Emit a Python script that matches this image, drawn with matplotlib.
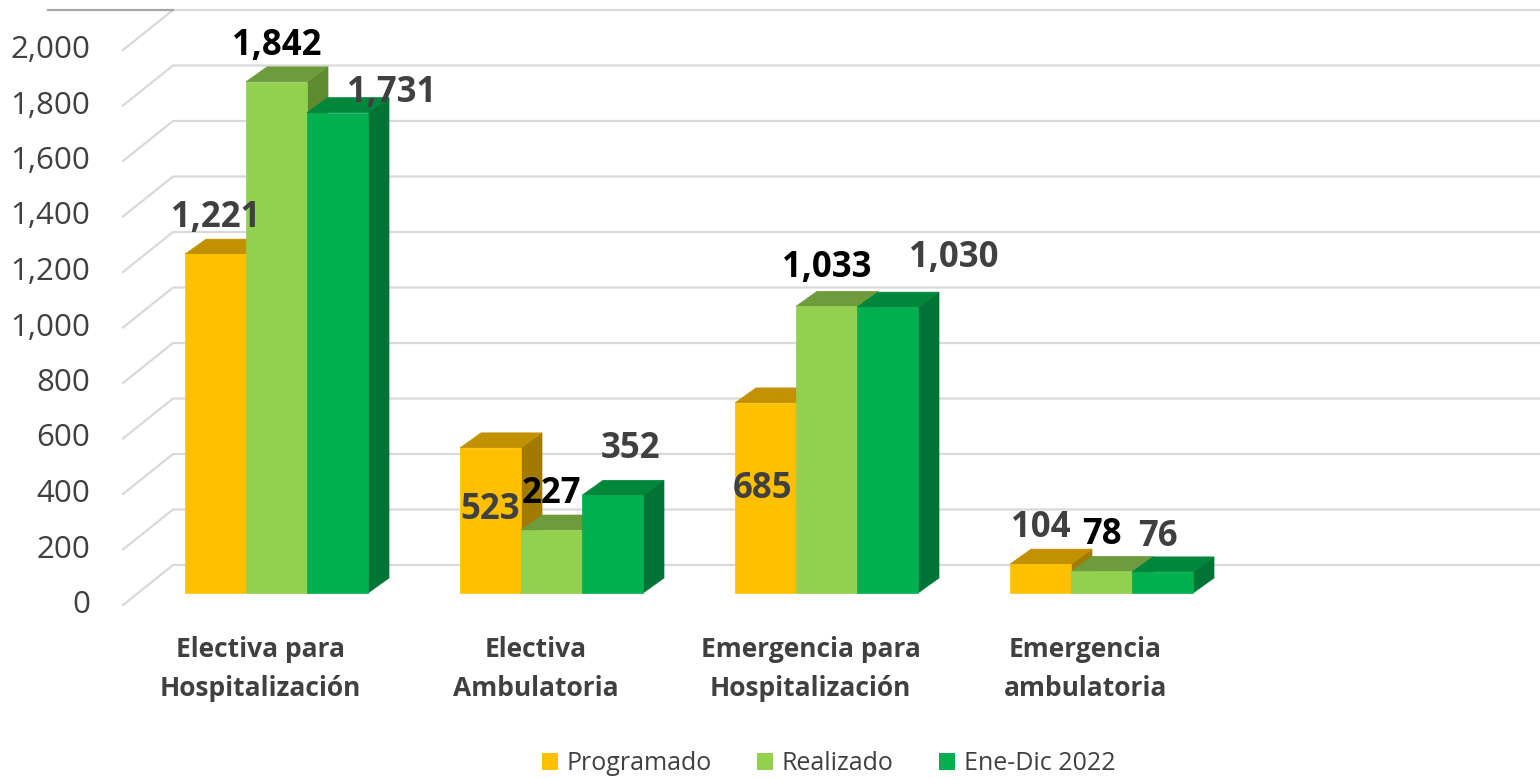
import matplotlib.pyplot as plt
from matplotlib.patches import Polygon, Patch

# data
categorias = ["Electiva para\nHospitalización", "Electiva\nAmbulatoria",
              "Emergencia para\nHospitalización", "Emergencia\nambulatoria"]
series = ["Programado", "Realizado", "Ene-Dic 2022"]
programado = [1221, 523, 685, 104]
realizado = [1842, 227, 1033, 78]
ene_dic_2022 = [1731, 352, 1030, 76]
ticks = [0, 200, 400, 600, 800, 1000, 1200, 1400, 1600, 1800, 2000]

valores = [programado, realizado, ene_dic_2022]

# colours: front, top, side
colores = [("#FFC000", "#C29100", "#A37A00"),
           ("#92D050", "#6E9C3C", "#5E8A30"),
           ("#00B050", "#00873C", "#007434")]
color_etiqueta = ["#404040", "#000000", "#404040"]
# manual nudges of the data labels (pixels), like in the original
nudge = {(0, 2): (54, 20), (1, 0): (0, -62), (1, 2): (18, 46),
         (2, 0): (-3, -86), (2, 1): (0, 38), (2, 2): (66, 49),
         (3, 2): (-5, 35)}

W, H = 1540, 779
fig = plt.figure(figsize=(W / 100, H / 100), dpi=100)
ax = fig.add_axes([0, 0, 1, 1])
ax.axis("off")

# scale: 1 category = 275 px, 1 value unit = 0.2775 px
SX, SY = 275.0, 0.2775
X0, Y0 = 276.5, 593.0  # pixel position of first category center / value 0
ax.set_xlim(-X0 / SX, (W - X0) / SX)
ax.set_ylim(-(H - Y0) / SY, Y0 / SY)


def dx(p):
    return p / SX


def dy(p):
    return p / SY


# back wall gridlines
x_front = dx(123 - X0)
x_back = dx(173 - X0)
for t in ticks:
    yf = t - dy(12)
    yb = t + dy(28)
    ax.plot([x_front, x_back, dx(W - X0)], [yf, yb, yb], color="#d9d9d9", lw=1.6, zorder=1)
    ax.text(dx(90 - X0), yf, f"{t:,}", ha="right", va="center", fontsize=22.5,
            color="#404040", family="Open Sans")
ax.plot([dx(48 - X0), x_back], [2000 + dy(28)] * 2, color="#a6a6a6", lw=1.6, zorder=1)

# 3d-looking bars
bw = dx(61)
ddx, ddy = dx(21), dy(15)
for i in range(len(categorias)):
    for j, vals in enumerate(valores):
        v = vals[i]
        left = i - 1.5 * bw + j * bw
        front, top, side = colores[j]
        ax.add_patch(Polygon([(left + bw, 0), (left + bw + ddx, ddy), (left + bw + ddx, v + ddy),
                              (left + bw, v)], closed=True, fc=side, ec=side, lw=0.5, zorder=3))
        ax.add_patch(Polygon([(left, v), (left + bw, v), (left + bw + ddx, v + ddy),
                              (left + ddx, v + ddy)], closed=True, fc=top, ec=top, lw=0.5, zorder=3))
        ax.add_patch(Polygon([(left, 0), (left + bw, 0), (left + bw, v), (left, v)],
                             closed=True, fc=front, ec=front, lw=0.5, zorder=3))
    for j, vals in enumerate(valores):
        left = i - 1.5 * bw + j * bw
        ox, oy = nudge.get((i, j), (0, 36))
        ax.annotate(f"{vals[i]:,}", xy=(left + bw / 2, vals[i]), xytext=(ox, oy),
                    textcoords="offset pixels", ha="center", va="center",
                    fontsize=25, fontweight="bold", color=color_etiqueta[j],
                    family="Open Sans", zorder=5)

# category labels
for i, c in enumerate(categorias):
    ax.text(i - dx(16), -dy(76), c, ha="center", va="center", fontsize=19,
            fontweight="bold", color="#404040", family="Open Sans", linespacing=1.55)

# legend
handles = [Patch(facecolor=colores[j][0], label=s) for j, s in enumerate(series)]
ax.legend(handles=handles, loc="center", bbox_to_anchor=(828.5 / W, (H - 764) / H), ncol=3,
          frameon=False, handlelength=0.64, handleheight=0.64, handletextpad=0.36,
          columnspacing=1.8, prop={"family": "Open Sans", "size": 18}, labelcolor="#404040")

fig.savefig("out.png", dpi=100)
